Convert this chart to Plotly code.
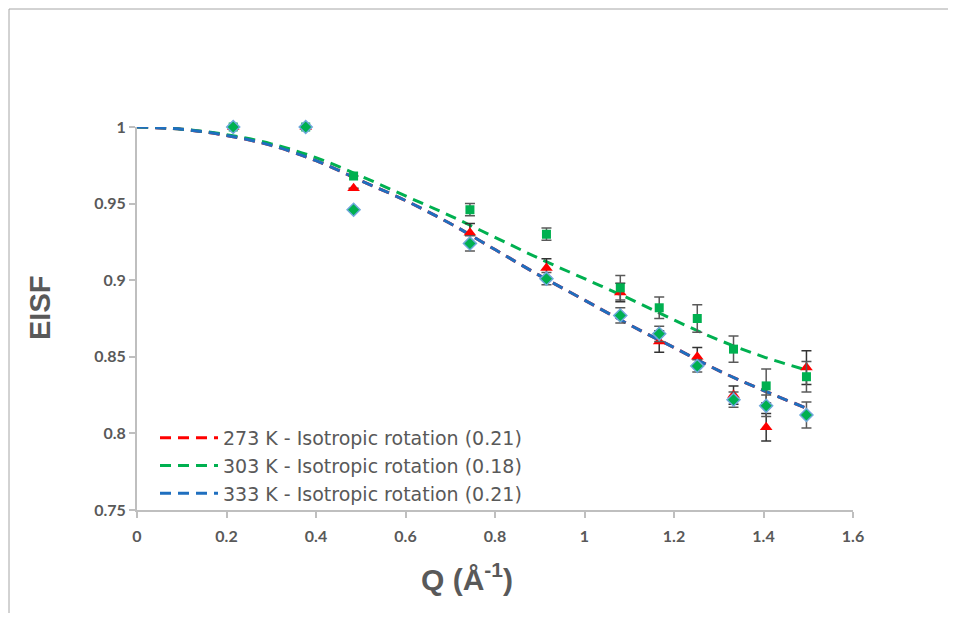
import plotly.graph_objects as go

# ---- data ----
q_pts = [0.215, 0.377, 0.484, 0.744, 0.915, 1.08, 1.167, 1.252, 1.333, 1.406, 1.496]

eisf_273 = [1.0, 1.0, 0.960, 0.931, 0.908, 0.892, 0.860, 0.850, 0.825, 0.804, 0.843]
err_273 = [0.0, 0.0, 0.0, 0.006, 0.006, 0.006, 0.007, 0.006, 0.006, 0.009, 0.011]

eisf_303 = [1.0, 1.0, 0.968, 0.946, 0.930, 0.895, 0.882, 0.875, 0.855, 0.831, 0.837]
err_303 = [0.0, 0.0, 0.0, 0.004, 0.004, 0.008, 0.007, 0.009, 0.0085, 0.011, 0.010]

eisf_333 = [1.0, 1.0, 0.946, 0.924, 0.901, 0.877, 0.865, 0.844, 0.822, 0.818, 0.812]
err_333 = [0.0, 0.0, 0.0, 0.005, 0.004, 0.005, 0.005, 0.004, 0.005, 0.007, 0.0085]

q_fit = [0.0, 0.1, 0.2, 0.3, 0.4, 0.5, 0.6, 0.7, 0.8, 0.9, 1.0, 1.1, 1.2, 1.3, 1.4, 1.5]
fit_273 = [1.0, 0.9985, 0.9945, 0.988, 0.978, 0.965, 0.952, 0.937, 0.920, 0.903, 0.887, 0.871, 0.856, 0.841, 0.828, 0.816]
fit_303 = [1.0, 0.9986, 0.995, 0.989, 0.980, 0.968, 0.955, 0.942, 0.928, 0.914, 0.901, 0.888, 0.874, 0.861, 0.850, 0.841]
fit_333 = [1.0, 0.9985, 0.9945, 0.988, 0.978, 0.965, 0.952, 0.937, 0.920, 0.903, 0.887, 0.871, 0.856, 0.841, 0.828, 0.816]

fit_names = ["273 K - Isotropic rotation (0.21)",
             "303 K - Isotropic rotation (0.18)",
             "333 K - Isotropic rotation (0.21)"]

x_ticks = [0, 0.2, 0.4, 0.6, 0.8, 1, 1.2, 1.4, 1.6]
x_tick_text = ["0", "0.2", "0.4", "0.6", "0.8", "1", "1.2", "1.4", "1.6"]
y_ticks = [0.75, 0.8, 0.85, 0.9, 0.95, 1]
y_tick_text = ["0.75", "0.8", "0.85", "0.9", "0.95", "1"]

RED = "#FF0000"
GREEN = "#00B050"
BLUE = "#1F6FBF"
LIGHTBLUE = "#6FA8DC"
GRAY_TXT = "#595959"
AXIS = "#BFBFBF"
FONT = "Lato, 'Open Sans', sans-serif"
LEGFONT = "'DejaVu Sans', 'Open Sans', sans-serif"
TITLEFONT = "'Liberation Sans Narrow', 'Liberation Sans', sans-serif"

fig = go.Figure()

# fitted curves (legend entries)
for y, c, n in [(fit_273, RED, fit_names[0]), (fit_303, GREEN, fit_names[1]), (fit_333, BLUE, fit_names[2])]:
    fig.add_trace(go.Scatter(
        x=q_fit, y=y, mode="lines", name=n,
        line=dict(color=c, width=3, dash="11px,7px", shape="spline"),
        cliponaxis=False,
    ))

# measured points
fig.add_trace(go.Scatter(
    x=q_pts, y=eisf_273, mode="markers", showlegend=False,
    marker=dict(symbol="triangle-up", size=11, color=RED),
    error_y=dict(type="data", array=err_273, color="#333333", thickness=1.5, width=5),
    cliponaxis=False,
))
fig.add_trace(go.Scatter(
    x=q_pts, y=eisf_303, mode="markers", showlegend=False,
    marker=dict(symbol="square", size=9, color=GREEN),
    error_y=dict(type="data", array=err_303, color=GRAY_TXT, thickness=1.5, width=5),
    cliponaxis=False,
))
fig.add_trace(go.Scatter(
    x=q_pts, y=eisf_333, mode="markers", showlegend=False,
    marker=dict(symbol="diamond", size=10, color=GREEN, line=dict(color=LIGHTBLUE, width=1.5)),
    error_y=dict(type="data", array=err_333, color=GRAY_TXT, thickness=1.5, width=5),
    cliponaxis=False,
))

# page has an 8px body offset; work in figure coordinates
OFF = 8
W, H = 940, 605
L, T = 137 - OFF, 127 - OFF
R = W - (853 - OFF)
B = H - (510 - OFF)
pw, ph = W - L - R, H - T - B


def px(xp):
    return (xp - OFF - L) / pw


def py(yp):
    return (H - B - (yp - OFF)) / ph


fig.update_layout(
    width=W, height=H,
    margin=dict(l=L, r=R, t=T, b=B),
    paper_bgcolor="white", plot_bgcolor="white",
    showlegend=True,
    legend=dict(
        x=px(155), y=py(513), xanchor="left", yanchor="bottom",
        bgcolor="rgba(0,0,0,0)",
        font=dict(family=LEGFONT, size=19, color=GRAY_TXT),
        itemwidth=58, tracegroupgap=0,
    ),
    xaxis=dict(
        range=[0, 1.6], tickvals=x_ticks, ticktext=x_tick_text,
        showgrid=False, zeroline=False, showline=True, linecolor=AXIS, linewidth=2,
        ticks="outside", ticklen=6, tickcolor=AXIS, tickwidth=1.5,
        ticklabelstandoff=5,
        tickfont=dict(family=FONT, size=16, color=GRAY_TXT, weight="bold"),
    ),
    yaxis=dict(
        range=[0.75, 1.0], tickvals=y_ticks, ticktext=y_tick_text,
        showgrid=False, zeroline=False, showline=True, linecolor=AXIS, linewidth=2,
        ticks="outside", ticklen=6, tickcolor=AXIS, tickwidth=1.5,
        tickfont=dict(family=FONT, size=16, color=GRAY_TXT, weight="bold"),
    ),
    annotations=[
        dict(text="EISF", xref="paper", yref="paper",
             x=px(40), y=py(308), xanchor="center", yanchor="middle",
             textangle=-90, showarrow=False,
             font=dict(family=TITLEFONT, size=29, color=GRAY_TXT, weight="bold")),
        dict(text="Q (Å<sup>-1</sup>)", xref="paper", yref="paper",
             x=px(467), y=py(577), xanchor="center", yanchor="middle",
             showarrow=False,
             font=dict(family=TITLEFONT, size=30, color=GRAY_TXT, weight="bold")),
    ],
    shapes=[
        dict(type="line", xref="paper", yref="paper",
             x0=px(9), x1=px(9), y0=py(9), y1=py(640),
             line=dict(color="#A6A6A6", width=1)),
        dict(type="line", xref="paper", yref="paper",
             x0=px(9), x1=px(980), y0=py(9), y1=py(9),
             line=dict(color="#A6A6A6", width=1)),
    ],
)

fig.write_html("out.html")
